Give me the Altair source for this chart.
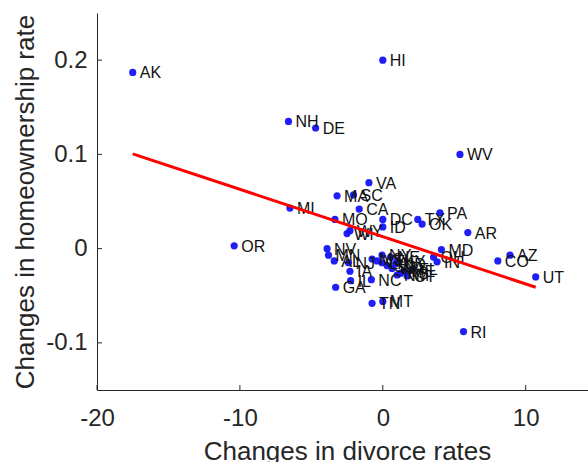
import altair as alt
import pandas as pd

# State-level changes (divorce rate vs. homeownership rate)
states = [
    "AK", "HI", "NH", "DE", "WV", "MI", "OR", "RI", "UT", "AZ",
    "CO", "AR", "PA", "TX", "OK", "DC", "ID", "MD", "OH", "IN",
    "VA", "MA", "SC", "CA", "MO", "WY", "WI", "NV", "MN", "AL",
    "NJ", "IA", "IL", "GA", "NC", "TN", "MT", "NY", "NE", "KY",
    "VT", "LA", "MS", "WA", "KS", "CT", "FL", "ME", "NM", "SD",
    "ND",
]
divorce_change = [
    -17.5, 0.0, -6.6, -4.7, 5.4, -6.5, -10.4, 5.65, 10.7, 8.9,
    8.05, 5.95, 4.0, 2.45, 2.75, 0.0, 0.0, 4.1, 3.55, 3.8,
    -0.97, -3.2, -2.05, -1.65, -3.35, -2.3, -2.5, -3.9, -3.8, -3.4,
    -2.4, -2.3, -2.25, -3.3, -0.8, -0.75, 0.0, -0.05, 0.55, 1.0,
    -0.4, -0.05, -0.75, 0.65, 1.25, 1.7, 2.05, 1.5, 1.0, 0.3,
    0.9,
]
homeown_change = [
    0.187, 0.200, 0.135, 0.128, 0.100, 0.043, 0.003, -0.088, -0.030, -0.007,
    -0.013, 0.017, 0.038, 0.031, 0.026, 0.031, 0.023, -0.001, -0.009, -0.014,
    0.070, 0.056, 0.057, 0.042, 0.031, 0.019, 0.016, 0.000, -0.007, -0.013,
    -0.015, -0.024, -0.034, -0.041, -0.033, -0.058, -0.056, -0.007, -0.009, -0.013,
    -0.013, -0.015, -0.011, -0.021, -0.026, -0.029, -0.022, -0.024, -0.028, -0.018,
    -0.016,
]

# Least-squares fit line
fit_intercept = 0.0127
fit_slope = -0.00502

x_ticks = [-20, -10, 0, 10]
y_ticks = [-0.1, 0, 0.1, 0.2]

W, H = 491, 377
AXIS_COLOR = "#262626"
FONT = "Liberation Sans"
TICK_FS = 24
TITLE_FS = 26

df = pd.DataFrame({"state": states, "dx": divorce_change, "dy": homeown_change})
x_lo, x_hi = min(divorce_change), max(divorce_change)
fit = pd.DataFrame({
    "dx": [x_lo, x_hi],
    "dy": [fit_intercept + fit_slope * x_lo, fit_intercept + fit_slope * x_hi],
})
xt = pd.DataFrame({"dx": x_ticks})
yt = pd.DataFrame({"dy": y_ticks})

x_scale = alt.Scale(domain=[-20, 14.36], nice=False, zero=False)
y_scale = alt.Scale(domain=[-0.15, 0.25], nice=False, zero=False)

x_axis = alt.Axis(
    values=x_ticks, labelExpr="toString(datum.value)", title="Changes in divorce rates",
    ticks=False, tickSize=0, grid=False, labelFontSize=TICK_FS, labelPadding=16,
    labelFlush=False, labelOverlap=False,
    labelFont=FONT, labelColor=AXIS_COLOR, domainColor=AXIS_COLOR, domainWidth=1,
    titleFont=FONT, titleFontSize=TITLE_FS, titleFontWeight="normal", titleColor=AXIS_COLOR,
    titleX=250, titleY=69, titleAlign="center", titleBaseline="alphabetic",
)
y_axis = alt.Axis(
    values=y_ticks, labelExpr="toString(datum.value)", title="Changes in homeownership rate",
    ticks=False, tickSize=0, grid=False, labelFontSize=TICK_FS, labelPadding=10,
    labelFlush=False, labelOverlap=False,
    labelFont=FONT, labelColor=AXIS_COLOR, domainColor=AXIS_COLOR, domainWidth=1,
    titleFont=FONT, titleFontSize=TITLE_FS, titleFontWeight="normal", titleColor=AXIS_COLOR,
    titleX=-72, titleY=H / 2, titleAngle=270, titleAlign="center", titleBaseline="middle",
)

x_enc = alt.X("dx:Q", scale=x_scale, axis=x_axis)
y_enc = alt.Y("dy:Q", scale=y_scale, axis=y_axis)

points = alt.Chart(df).mark_circle(size=52, color="#1414f5", opacity=0.95).encode(x=x_enc, y=y_enc)
labels = alt.Chart(df).mark_text(
    align="left", baseline="middle", dx=7, dy=1, fontSize=16, font=FONT, color="#111111"
).encode(x=x_enc, y=y_enc, text="state:N")
line = alt.Chart(fit).mark_line(color="#ff0000", strokeWidth=3).encode(x=x_enc, y=y_enc)

# inward-pointing tick marks
xticks = alt.Chart(xt).mark_rule(color=AXIS_COLOR, strokeWidth=1).encode(
    x=x_enc, y=alt.value(H), y2=alt.value(H - 5)
)
yticks = alt.Chart(yt).mark_rule(color=AXIS_COLOR, strokeWidth=1).encode(
    y=y_enc, x=alt.value(0), x2=alt.value(5)
)

chart = alt.layer(points, labels, line, xticks, yticks).properties(
    width=W, height=H,
    autosize=alt.AutoSizeParams(type="none"),
    padding={"left": 97, "top": 13, "right": 0, "bottom": 72},
    background="white",
).configure_view(stroke=None)

chart.save("out.html", embed_options={"renderer": "svg", "actions": False})
